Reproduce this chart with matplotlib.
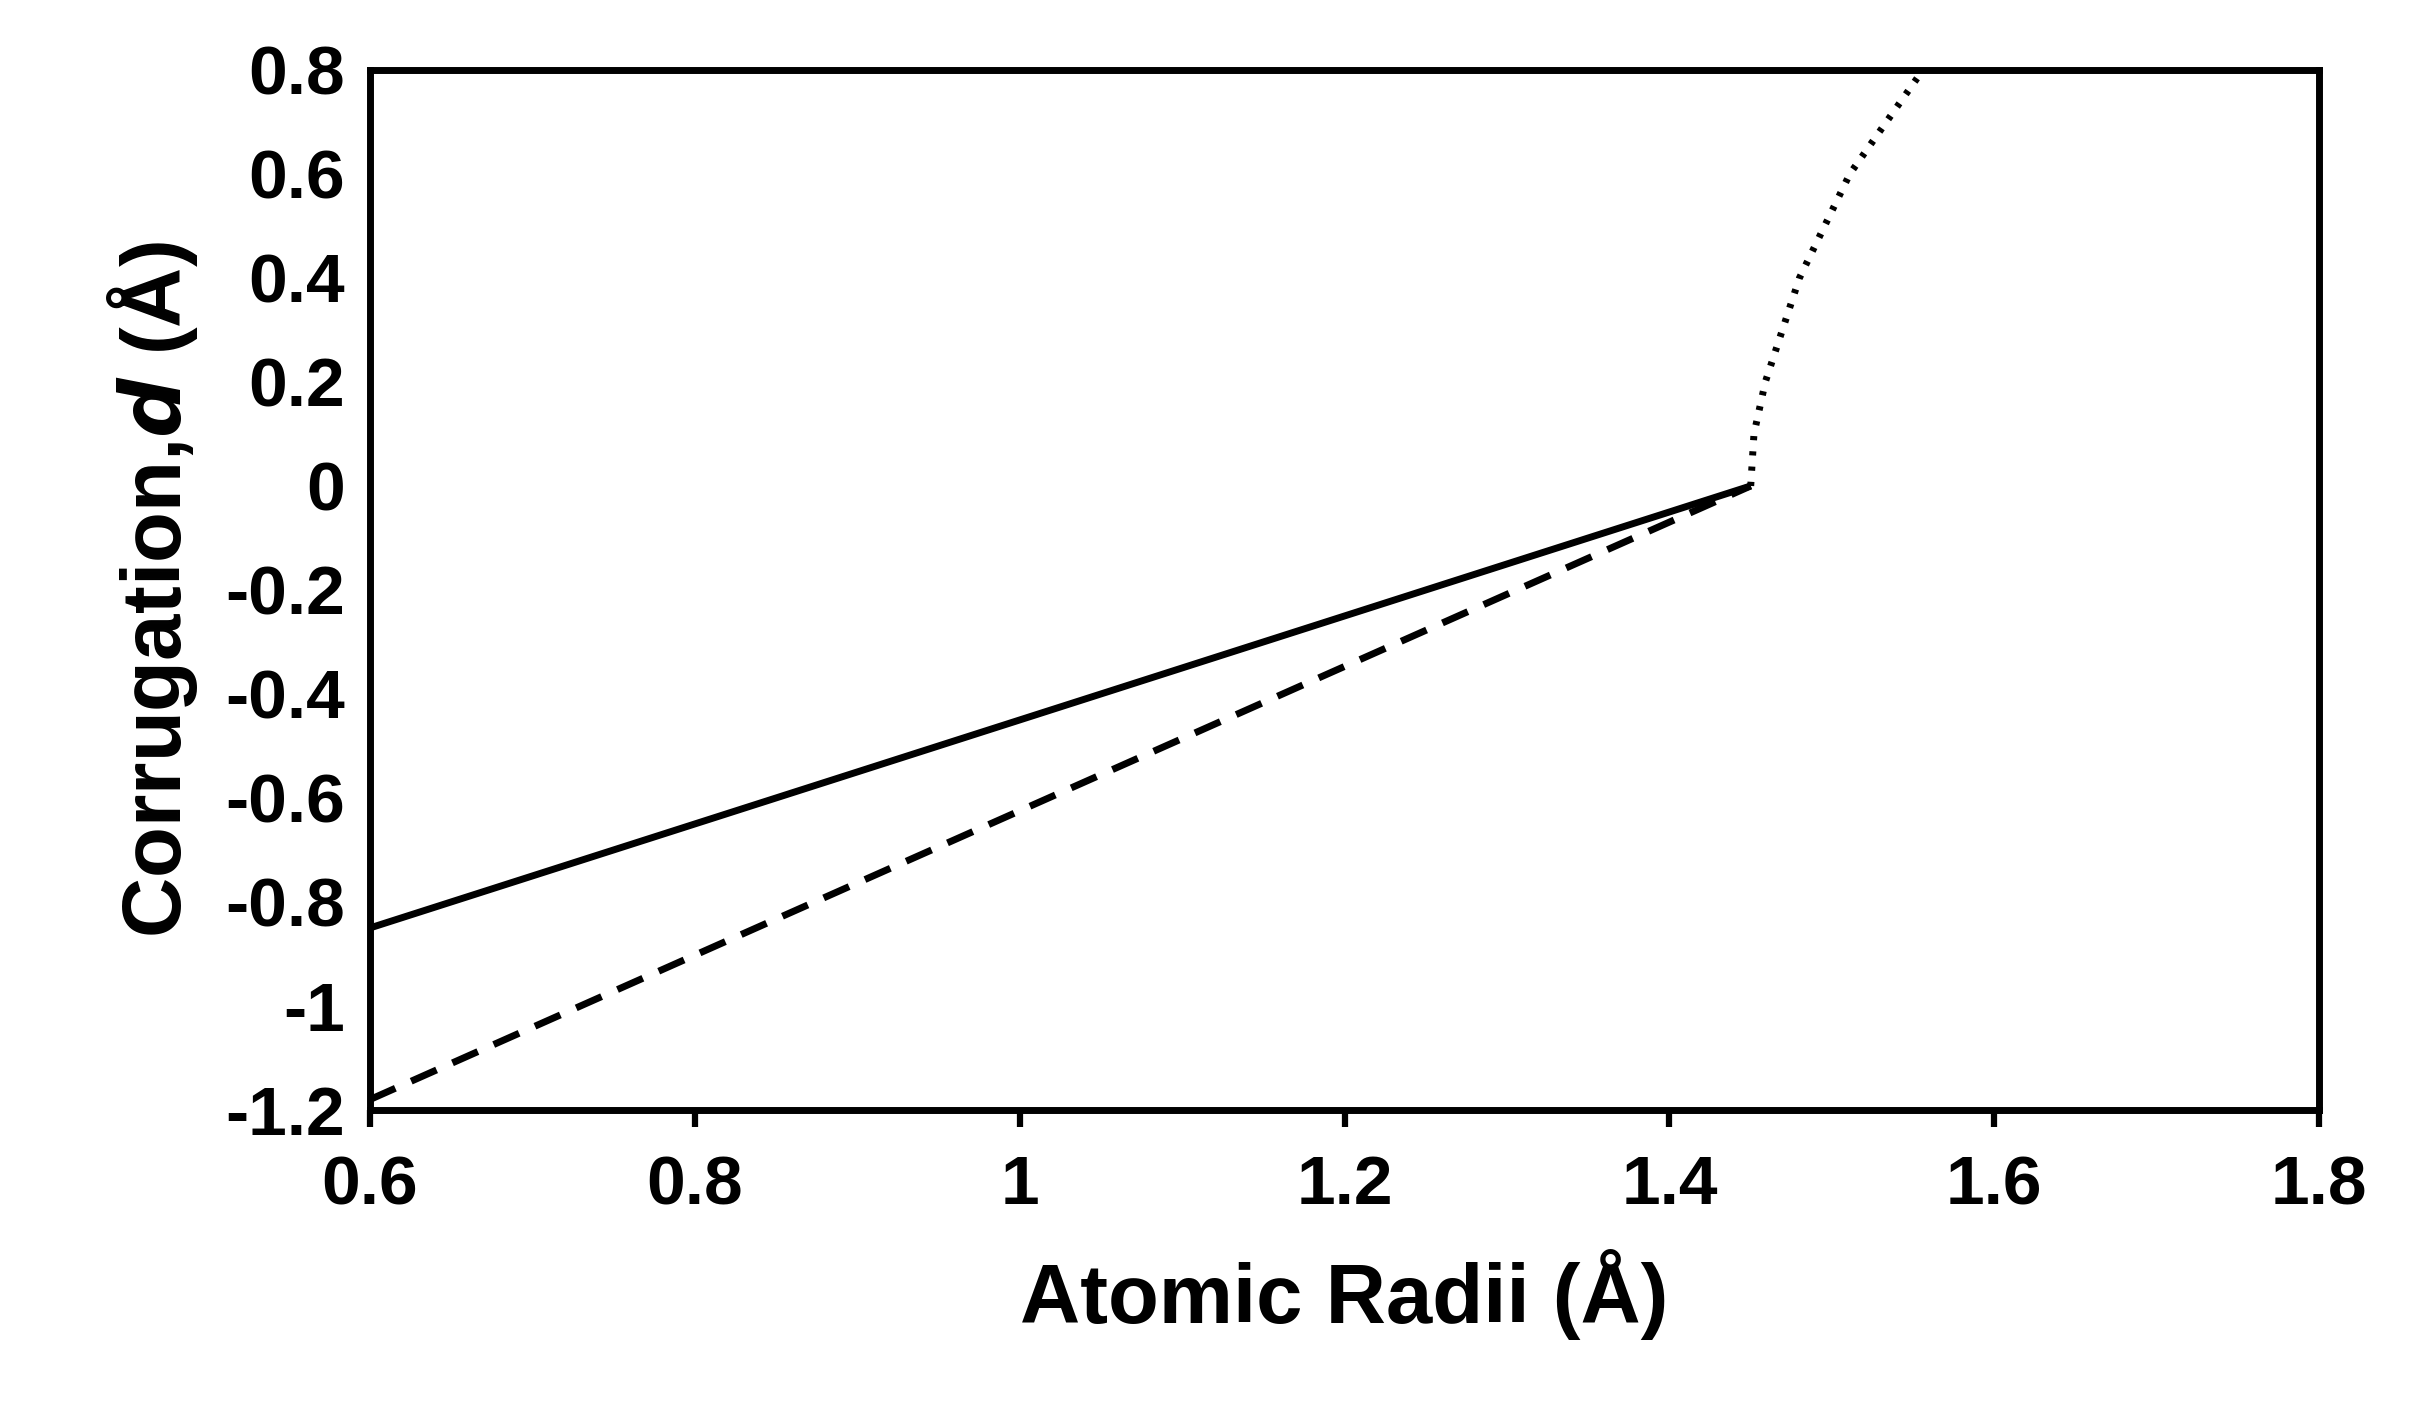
import matplotlib
matplotlib.use("Agg")
import matplotlib.pyplot as plt

solid_x = [0.6, 1.45]
solid_y = [-0.85, 0.0]
dashed_x = [0.6, 1.45]
dashed_y = [-1.18, 0.0]
dotted_x = [1.45, 1.452, 1.459, 1.48, 1.511, 1.556]
dotted_y = [0.0, 0.1, 0.2, 0.4, 0.6, 0.8]

plt.rcParams['font.family'] = ['Liberation Sans', 'DejaVu Sans']
plt.rcParams['font.weight'] = 'bold'
fig = plt.figure(figsize=(24.26, 14.19), dpi=100)
ax = fig.add_axes([0.1525, 0.2178, 0.8035, 0.7329])
ax.plot(solid_x, solid_y, color='black', lw=5, solid_capstyle='butt')
ax.plot(dashed_x, dashed_y, color='black', lw=5, linestyle=(0, (4, 2.5)))
ax.plot(dotted_x, dotted_y, color='black', lw=5, linestyle=(0, (0.6, 1.6)))
ax.set_xlim(0.6, 1.8)
ax.set_ylim(-1.2, 0.8)
xt = [0.6, 0.8, 1.0, 1.2, 1.4, 1.6, 1.8]
yt = [-1.2, -1.0, -0.8, -0.6, -0.4, -0.2, 0.0, 0.2, 0.4, 0.6, 0.8]
fmt = lambda v: ('%g' % v)
ax.set_xticks(xt, [fmt(v) for v in xt])
ax.set_yticks(yt, [fmt(v) for v in yt])
ax.tick_params(labelsize=50, width=4.5)
ax.tick_params(axis='x', direction='out', length=12, pad=20)
ax.tick_params(axis='y', direction='out', length=0, pad=18)
for s in ax.spines.values():
    s.set_linewidth(5)
ax.set_xlabel('Atomic Radii (Å)', fontsize=60, fontweight='bold', labelpad=22)
ax.set_ylabel('Corrugation,$\\boldsymbol{d}$ (Å)', fontsize=60, fontweight='bold', labelpad=18)
fig.savefig('out.png', dpi=100)
